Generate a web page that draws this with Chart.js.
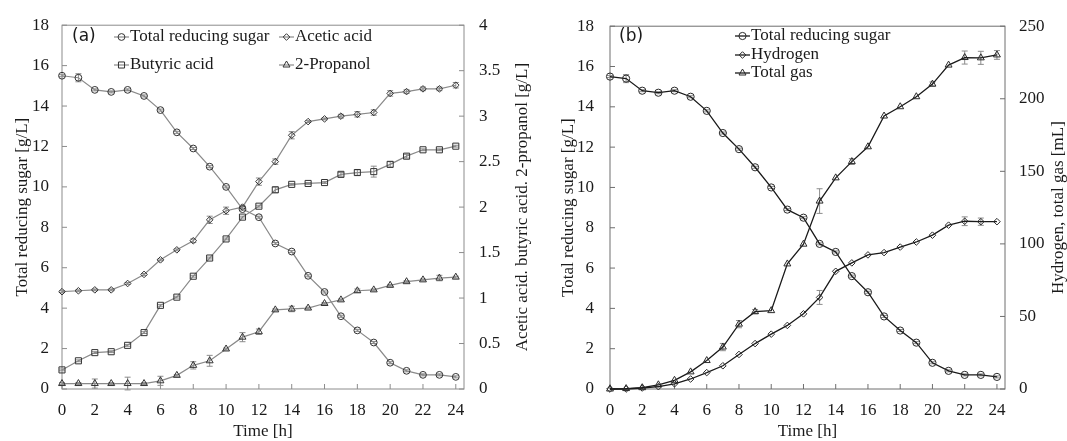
<!DOCTYPE html>
<html>
<head>
<meta charset="utf-8">
<script src="https://cdn.jsdelivr.net/npm/chart.js@4.4.1/dist/chart.umd.min.js"></script>
<style>
  html, body { margin: 0; padding: 0; background: #fff; }
  #wrap { position: relative; width: 1067px; height: 441px; }
  .panel { position: absolute; top: 0; height: 441px; }
  #pa { left: 0; width: 535px; }
  #pb { left: 535px; width: 532px; }
</style>
</head>
<body>
<div id="wrap">
  <div class="panel" id="pa"><canvas id="chartA"></canvas></div>
  <div class="panel" id="pb"><canvas id="chartB"></canvas></div>
</div>
<script>
// sampling times [h]
var TIME_H = [0, 1, 2, 3, 4, 5, 6, 7, 8, 9, 10, 11, 12, 13, 14, 15, 16, 17, 18, 19, 20, 21, 22, 23, 24];
var X_TICKS = [0, 2, 4, 6, 8, 10, 12, 14, 16, 18, 20, 22, 24];

// total reducing sugar [g/L] (same in both panels)
var SUGAR = [15.5, 15.4, 14.8, 14.7, 14.8, 14.5, 13.8, 12.7, 11.9, 11.0, 10.0, 8.9, 8.5, 7.2, 6.8, 5.6, 4.8, 3.6, 2.9, 2.3, 1.3, 0.9, 0.7, 0.7, 0.6];
var SUGAR_ERR = [0.05, 0.2, 0.05, 0.05, 0.05, 0.05, 0.05, 0.05, 0.05, 0.05, 0.05, 0.05, 0.05, 0.05, 0.05, 0.05, 0.05, 0.05, 0.05, 0.05, 0.05, 0.05, 0.05, 0.05, 0.05];

// panel (a), right axis [g/L]
var ACETIC = [1.07, 1.08, 1.09, 1.09, 1.16, 1.26, 1.42, 1.53, 1.63, 1.86, 1.96, 2.0, 2.28, 2.50, 2.79, 2.94, 2.97, 3.0, 3.02, 3.04, 3.25, 3.27, 3.30, 3.30, 3.34];
var ACETIC_ERR = [0.01, 0.01, 0.01, 0.01, 0.01, 0.01, 0.01, 0.01, 0.02, 0.04, 0.04, 0.02, 0.04, 0.03, 0.04, 0.01, 0.01, 0.02, 0.03, 0.03, 0.03, 0.02, 0.02, 0.02, 0.03];
var BUTYRIC = [0.21, 0.31, 0.40, 0.41, 0.48, 0.62, 0.92, 1.01, 1.24, 1.44, 1.65, 1.89, 2.01, 2.19, 2.25, 2.26, 2.27, 2.36, 2.38, 2.39, 2.47, 2.56, 2.63, 2.63, 2.67];
var BUTYRIC_ERR = [0.01, 0.01, 0.01, 0.01, 0.01, 0.01, 0.01, 0.01, 0.01, 0.01, 0.01, 0.01, 0.01, 0.03, 0.01, 0.01, 0.01, 0.02, 0.03, 0.06, 0.03, 0.02, 0.01, 0.01, 0.01];
var PROPANOL = [0.06, 0.06, 0.06, 0.06, 0.06, 0.06, 0.09, 0.15, 0.26, 0.31, 0.44, 0.57, 0.63, 0.87, 0.88, 0.89, 0.94, 0.98, 1.08, 1.09, 1.14, 1.18, 1.20, 1.22, 1.23];
var PROPANOL_ERR = [0.01, 0.01, 0.05, 0.01, 0.07, 0.01, 0.05, 0.01, 0.04, 0.06, 0.01, 0.05, 0.03, 0.01, 0.03, 0.01, 0.01, 0.01, 0.02, 0.01, 0.01, 0.01, 0.01, 0.03, 0.01];

// panel (b), right axis [mL]
var HYDROGEN = [0, 0, 0.7, 1.6, 3.6, 6.9, 11.3, 16, 23.8, 31.3, 37.8, 43.8, 51.8, 63.1, 81.1, 86.9, 92.4, 94, 97.8, 101.3, 106, 112.9, 115.6, 115.3, 115.3];
var HYDROGEN_ERR = [0, 0, 0, 0, 0, 0, 0, 0, 0, 0, 0, 0, 0, 4.8, 0, 0, 0, 0, 0, 0, 0, 0, 3, 2.5, 0];
var TOTAL_GAS = [0, 0.3, 0.9, 2.9, 6, 11.8, 19.6, 28.9, 44.7, 53.3, 54, 86.2, 99.8, 129.5, 145.5, 156.7, 166.9, 188.1, 194.5, 201.4, 210.1, 223.2, 228.4, 228.2, 230.2];
var TOTAL_GAS_ERR = [0, 0, 0, 0, 0, 0, 0, 2.5, 2.5, 1.5, 0, 0, 0, 8.5, 0, 2, 0, 0, 0, 0, 1.5, 0, 4.5, 4.5, 3];

var SERIF = "'Liberation Serif', 'Times New Roman', serif";
var SANS = "'DejaVu Sans', sans-serif";
var INK = '#1a1a1a';

function drawMarker(ctx, style, x, y, r, color) {
  ctx.save();
  ctx.strokeStyle = color;
  ctx.lineWidth = 1;
  ctx.beginPath();
  if (style === 'circle') {
    ctx.arc(x, y, r, 0, Math.PI * 2);
  } else if (style === 'rect') {
    var s = r * Math.SQRT1_2;
    ctx.rect(x - s, y - s, 2 * s, 2 * s);
  } else if (style === 'rectRot') {
    ctx.moveTo(x, y - r); ctx.lineTo(x + r, y); ctx.lineTo(x, y + r); ctx.lineTo(x - r, y);
    ctx.closePath();
  } else if (style === 'triangle') {
    ctx.moveTo(x, y - r); ctx.lineTo(x + r * 0.87, y + r * 0.5); ctx.lineTo(x - r * 0.87, y + r * 0.5);
    ctx.closePath();
  }
  ctx.stroke();
  ctx.restore();
}

// plot frame + inward tick marks
var framePlugin = {
  id: 'frame',
  beforeDatasetsDraw: function (chart, args, opts) {
    var a = chart.chartArea, ctx = chart.ctx, len = opts.tickLength;
    ctx.save();
    ctx.strokeStyle = opts.color;
    ctx.lineWidth = 1;
    ctx.strokeRect(a.left, a.top, a.right - a.left, a.bottom - a.top);
    ctx.beginPath();
    Object.keys(chart.scales).forEach(function (id) {
      var s = chart.scales[id];
      s.ticks.forEach(function (t) {
        var p = s.getPixelForValue(t.value);
        if (s.position === 'bottom') { ctx.moveTo(p, a.bottom); ctx.lineTo(p, a.bottom - len); }
        else if (s.position === 'left') { ctx.moveTo(a.left, p); ctx.lineTo(a.left + len, p); }
        else if (s.position === 'right') { ctx.moveTo(a.right, p); ctx.lineTo(a.right - len, p); }
      });
    });
    ctx.stroke();
    ctx.restore();
  }
};

var errorBarPlugin = {
  id: 'errorBars',
  beforeDatasetsDraw: function (chart, args, opts) {
    var ctx = chart.ctx;
    ctx.save();
    ctx.strokeStyle = opts.color;
    ctx.lineWidth = 1;
    chart.data.datasets.forEach(function (ds, i) {
      if (!ds.errors) return;
      var meta = chart.getDatasetMeta(i);
      var ys = chart.scales[ds.yAxisID];
      ctx.beginPath();
      ds.data.forEach(function (pt, j) {
        var e = ds.errors[j];
        if (!e) return;
        var x = meta.data[j].x;
        var y1 = ys.getPixelForValue(pt.y + e), y2 = ys.getPixelForValue(pt.y - e);
        ctx.moveTo(x, y1); ctx.lineTo(x, y2);
        ctx.moveTo(x - opts.cap, y1); ctx.lineTo(x + opts.cap, y1);
        ctx.moveTo(x - opts.cap, y2); ctx.lineTo(x + opts.cap, y2);
      });
      ctx.stroke();
    });
    ctx.restore();
  }
};

// legend laid out in the plot corner like the original, plus panel tag
var boxLegendPlugin = {
  id: 'boxLegend',
  afterDatasetsDraw: function (chart, args, opts) {
    var ctx = chart.ctx;
    ctx.save();
    ctx.textBaseline = 'middle';
    ctx.textAlign = 'left';
    ctx.fillStyle = INK;
    ctx.font = opts.font;
    opts.items.forEach(function (it) {
      var ds = chart.data.datasets[it.index];
      ctx.strokeStyle = ds.borderColor;
      ctx.lineWidth = ds.borderWidth;
      ctx.beginPath();
      ctx.moveTo(it.x, it.y);
      ctx.lineTo(it.x + opts.sample, it.y);
      ctx.stroke();
      drawMarker(ctx, ds.pointStyle, it.x + opts.sample / 2, it.y, ds.pointRadius, ds.pointBorderColor);
      ctx.fillText(ds.label, it.x + opts.sample + opts.gap, it.y);
    });
    ctx.font = opts.tagFont;
    ctx.fillText(opts.tag, opts.tagX, opts.tagY);
    ctx.restore();
  }
};

// right axis title, reading bottom to top like the left one
var sideTitlePlugin = {
  id: 'sideTitle',
  afterDraw: function (chart, args, opts) {
    var a = chart.chartArea, ctx = chart.ctx;
    ctx.save();
    ctx.font = opts.font;
    ctx.fillStyle = INK;
    ctx.textAlign = 'center';
    ctx.textBaseline = 'middle';
    ctx.translate(chart.width - opts.inset, (a.top + a.bottom) / 2);
    ctx.rotate(-Math.PI / 2);
    ctx.fillText(opts.text, 0, 0);
    ctx.restore();
  }
};

function series(label, values, errors, axis, pointStyle, radius, look) {
  return {
    label: label,
    data: TIME_H.map(function (t, i) { return { x: t, y: values[i] }; }),
    errors: errors,
    yAxisID: axis,
    borderColor: look.line,
    borderWidth: look.width,
    pointStyle: pointStyle,
    pointRadius: radius,
    pointHoverRadius: radius,
    pointBorderColor: look.marker,
    pointBorderWidth: 1,
    pointBackgroundColor: 'rgba(0,0,0,0)',
    tension: 0,
    fill: false,
    clip: 10
  };
}

function tickFont() { return { family: SERIF, size: 17 }; }

function buildScales(cfg) {
  return {
    x: {
      type: 'linear', min: 0, max: 24.5,
      afterBuildTicks: function (s) { s.ticks = X_TICKS.map(function (v) { return { value: v }; }); },
      afterFit: function (s) { s.height = 52; },
      grid: { display: false, drawTicks: false },
      border: { display: false },
      ticks: { font: tickFont(), color: INK, padding: 11, maxRotation: 0, autoSkip: false,
        callback: function (v) { return String(v); } },
      title: { display: true, text: 'Time [h]', font: tickFont(), color: INK, padding: { top: 0, bottom: -1 } }
    },
    yL: {
      position: 'left', min: 0, max: 18,
      afterFit: function (s) { s.width = cfg.leftWidth; },
      grid: { display: false, drawTicks: false },
      border: { display: false },
      ticks: { stepSize: 2, font: tickFont(), color: INK, padding: cfg.leftPad },
      title: { display: true, text: 'Total reducing sugar [g/L]', font: tickFont(), color: INK,
        padding: { top: cfg.titlePad, bottom: 0 } }
    },
    yR: {
      position: 'right', min: 0, max: cfg.rightMax,
      afterFit: function (s) { s.width = cfg.rightWidth; },
      grid: { display: false, drawTicks: false },
      border: { display: false },
      ticks: { stepSize: cfg.rightStep, font: tickFont(), color: INK, padding: cfg.rightPad,
        callback: function (v) { return String(v); } }
    }
  };
}

var lookA = { line: '#8a8a8a', marker: '#333333', width: 1.2 };
var lookB = { line: '#1a1a1a', marker: '#2a2a2a', width: 1.3 };

new Chart(document.getElementById('chartA'), {
  type: 'line',
  data: {
    datasets: [
      series('Total reducing sugar', SUGAR, SUGAR_ERR, 'yL', 'circle', 3.4, lookA),
      series('Acetic acid', ACETIC, ACETIC_ERR, 'yR', 'rectRot', 3.3, lookA),
      series('Butyric acid', BUTYRIC, BUTYRIC_ERR, 'yR', 'rect', 4.3, lookA),
      series('2-Propanol', PROPANOL, PROPANOL_ERR, 'yR', 'triangle', 4, lookA)
    ]
  },
  options: {
    responsive: true,
    maintainAspectRatio: false,
    animation: false,
    events: [],
    layout: { padding: { top: 16, left: 0, right: 0, bottom: 0 } },
    scales: buildScales({ leftWidth: 62, leftPad: 13, titlePad: 12, rightMax: 4, rightStep: 0.5, rightWidth: 71, rightPad: 15 }),
    plugins: {
      legend: { display: false },
      tooltip: { enabled: false },
      frame: { color: '#8c8c8c', tickLength: 5 },
      errorBars: { color: '#8c8c8c', cap: 3 },
      boxLegend: {
        font: '17px ' + SERIF, sample: 15, gap: 1,
        items: [
          { index: 0, x: 114, y: 37 },
          { index: 1, x: 279, y: 37 },
          { index: 2, x: 114, y: 65 },
          { index: 3, x: 279, y: 65 }
        ],
        tag: '(a)', tagFont: '17px ' + SANS, tagX: 72, tagY: 37
      },
      sideTitle: { text: 'Acetic acid. butyric acid. 2-propanol [g/L]', font: '17px ' + SERIF, inset: 12 }
    }
  },
  plugins: [framePlugin, errorBarPlugin, boxLegendPlugin, sideTitlePlugin]
});

new Chart(document.getElementById('chartB'), {
  type: 'line',
  data: {
    datasets: [
      series('Total reducing sugar', SUGAR, SUGAR_ERR, 'yL', 'circle', 3.6, lookB),
      series('Hydrogen', HYDROGEN, HYDROGEN_ERR, 'yR', 'rectRot', 3.3, lookB),
      series('Total gas', TOTAL_GAS, TOTAL_GAS_ERR, 'yR', 'triangle', 4, lookB)
    ]
  },
  options: {
    responsive: true,
    maintainAspectRatio: false,
    animation: false,
    events: [],
    layout: { padding: { top: 16, left: 0, right: 0, bottom: 0 } },
    scales: buildScales({ leftWidth: 75, leftPad: 16, titlePad: 23, rightMax: 250, rightStep: 50, rightWidth: 62, rightPad: 14 }),
    plugins: {
      legend: { display: false },
      tooltip: { enabled: false },
      frame: { color: '#6e6e6e', tickLength: 5 },
      errorBars: { color: '#8c8c8c', cap: 3 },
      boxLegend: {
        font: '17px ' + SERIF, sample: 15, gap: 1,
        items: [
          { index: 0, x: 200, y: 36 },
          { index: 1, x: 200, y: 55 },
          { index: 2, x: 200, y: 73 }
        ],
        tag: '(b)', tagFont: '17px ' + SANS, tagX: 84, tagY: 37
      },
      sideTitle: { text: 'Hydrogen, total gas [mL]', font: '17px ' + SERIF, inset: 8 }
    }
  },
  plugins: [framePlugin, errorBarPlugin, boxLegendPlugin, sideTitlePlugin]
});
</script>
</body>
</html>
